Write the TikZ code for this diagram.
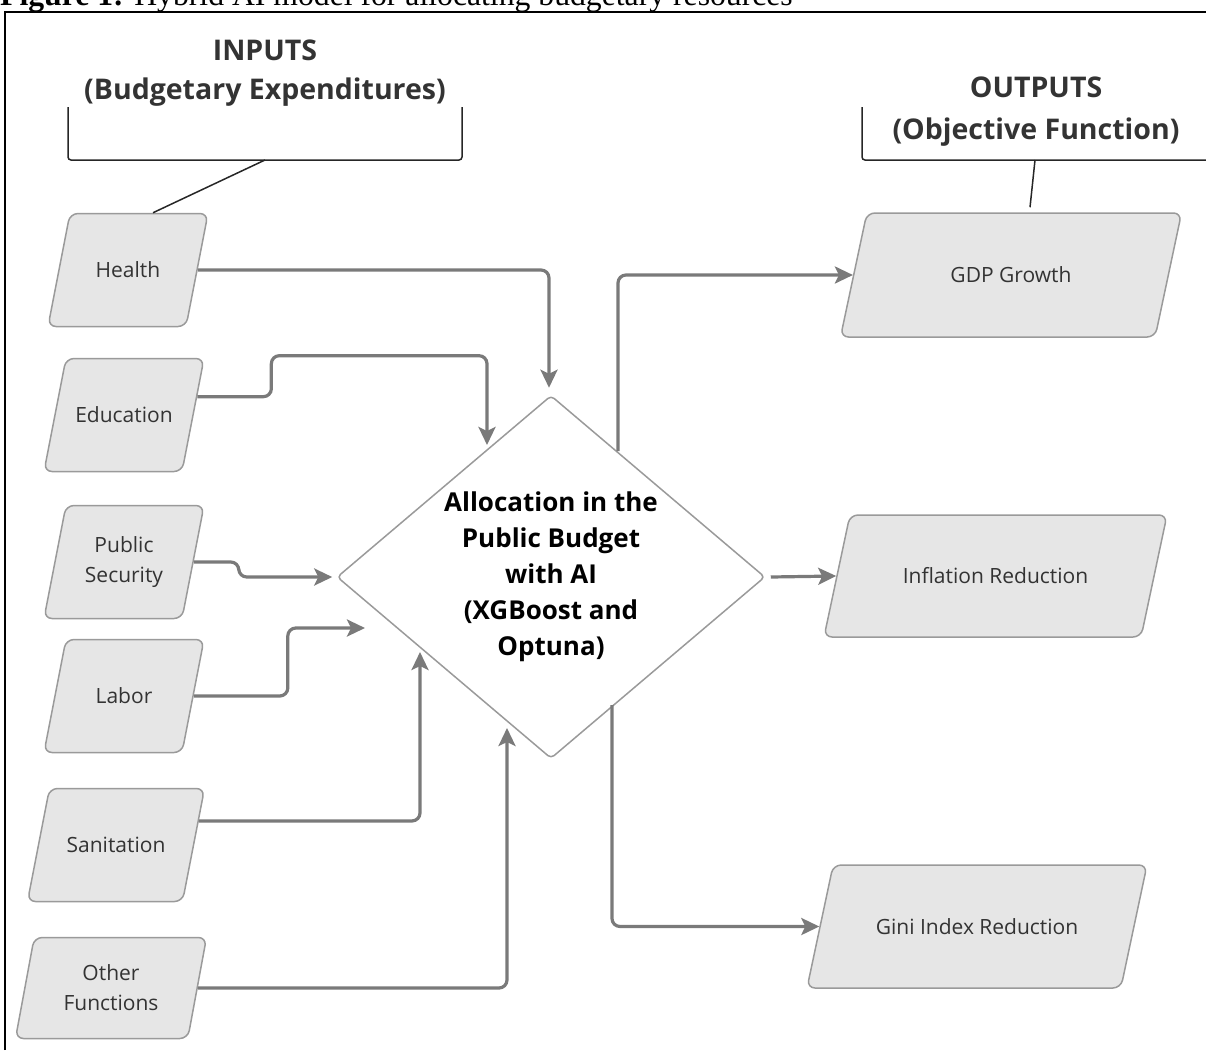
\documentclass[tikz,border=0pt]{standalone}
\usepackage{fontspec}
\setmainfont{Open Sans}
\newfontfamily\capfont{Liberation Serif}
\usepackage{tikz}
\usetikzlibrary{shapes.geometric, arrows.meta, positioning, calc}

\definecolor{boxfill}{HTML}{E6E6E6}
\definecolor{boxline}{HTML}{9A9A9A}
\definecolor{linkgray}{HTML}{7A7A7A}
\definecolor{txtgray}{HTML}{333333}

\begin{document}
\begin{tikzpicture}[
    x=1pt, y=-1pt,                    % <── pixel grid, y grows downwards
    in_node/.style={trapezium, trapezium left angle=79, trapezium right angle=101,
        trapezium stretches body, draw=boxline, line width=1.5pt, fill=boxfill,
        rounded corners=8pt, inner xsep=0pt, inner ysep=46pt, minimum height=113pt,
        align=center, text=txtgray, font=\fontsize{21}{30}\selectfont},
    one_line/.style={text height=18pt, text depth=3pt},
    out_node/.style={in_node, one_line, trapezium left angle=78, trapezium right angle=102},
    alloc_node/.style={diamond, draw=boxline, line width=1.5pt, fill=white,
        rounded corners=4pt, inner sep=0pt, aspect=1.18, minimum width=428pt,
        minimum height=363pt, align=center, font=\bfseries\fontsize{26}{36}\selectfont},
    title_node/.style={align=center, inner sep=0pt, text=txtgray},
    link/.style={draw=linkgray, line width=3.2pt, rounded corners=8pt,
        -{Stealth[length=18pt, width=17pt, inset=4pt]}},
    bracket/.style={draw=black!85, line width=1.5pt, rounded corners=3pt}
    ]
    \useasboundingbox (0,0) rectangle (1206,1050);
    \clip (0,0) rectangle (1206,1050);

    % Caption and frame
    \node[anchor=base west, inner sep=0pt, font=\capfont\fontsize{31.7}{38}\selectfont]
        (caption) at (0,5) {\textbf{Figure 1:} Hybrid AI model for allocating budgetary resources};
    \draw[line width=1.5pt] (5,1050) |- (1210,12);

    % Titles and brackets
    \node[title_node, font=\bfseries\fontsize{28.5}{39}\selectfont] (intitle) at (265,73)
        {INPUTS\\(Budgetary Expenditures)};
    \node[title_node, font=\bfseries\fontsize{28.5}{42}\selectfont] (outtitle) at (1036,112)
        {OUTPUTS\\(Objective Function)};
    \draw[bracket] (68,107) |- (462,160) -- (462,107);
    \draw[bracket] (862,107) |- (1210,160);
    \coordinate (inlink) at (265,160);
    \coordinate (outlink) at (1035,160);

    % Nodes
    \node[in_node, one_line, minimum width=160pt] (health) at (128,270) {Health};
    \node[in_node, one_line, minimum width=160pt] (edu) at (124,415) {Education};
    \node[in_node, inner ysep=31pt, minimum width=160pt] (sec) at (124,562) {Public\\Security};
    \node[in_node, one_line, minimum width=160pt] (labor) at (124,696) {Labor};
    \node[in_node, one_line, minimum width=177pt] (sanit) at (116,845) {Sanitation};
    \node[in_node, inner ysep=25pt, minimum width=191pt, minimum height=101pt] (other) at (111,988) {Other\\Functions};

    \node[alloc_node] (alloc) at (551,577) {Allocation in the\\Public Budget\\with AI\\(XGBoost and\\Optuna)};

    \node[out_node, inner ysep=51.5pt, minimum width=341pt, minimum height=124pt] (gdp) at (1011,275) {GDP Growth};
    \node[out_node, inner ysep=50.5pt, minimum width=343pt, minimum height=122pt] (infl) at (995.5,576) {Inflation Reduction};
    \node[out_node, inner ysep=51pt, minimum width=340pt, minimum height=123pt] (gini) at (977,926.5) {Gini Index Reduction};

    % Bracket links
    \draw[draw=black!85, line width=1.5pt] (inlink) -- ($(health.north)+(25,0)$);
    \draw[draw=black!85, line width=1.5pt] (outlink) -- ($(gdp.north)+(19,-5)$);

    % Arrows into the allocation
    \draw[link] (health.east) -| ($(alloc.north)+(-2,-7)$);
    \draw[link] ($(edu.top right corner)!0.34!(edu.bottom right corner)$) -- ++(74,0) -- ++(0,-41)
        -| ($(alloc.center)+(-64,-132)$);
    \draw[link] ($(sec.top right corner)!0.5!(sec.bottom right corner)$) -- ++(45,0)
        |- ($(alloc.west)+(-4,0)$);
    \draw[link] (labor.east) -- ++(94,0) |- ($(alloc.center)+(-186,51)$);
    \draw[link] ($(sanit.top right corner)!0.29!(sanit.bottom right corner)$)
        -| ($(alloc.center)+(-131,75)$);
    \draw[link] (other.east) -| ($(alloc.center)+(-44,151)$);

    % Arrows out of the allocation
    \draw[link] ($(alloc.center)+(67,-126)$) |- (gdp.west);
    \draw[link] ($(alloc.east)+(5,0)$) -- (infl.west);
    \draw[link] ($(alloc.center)+(61,128)$) |- (gini.west);
\end{tikzpicture}
\end{document}
